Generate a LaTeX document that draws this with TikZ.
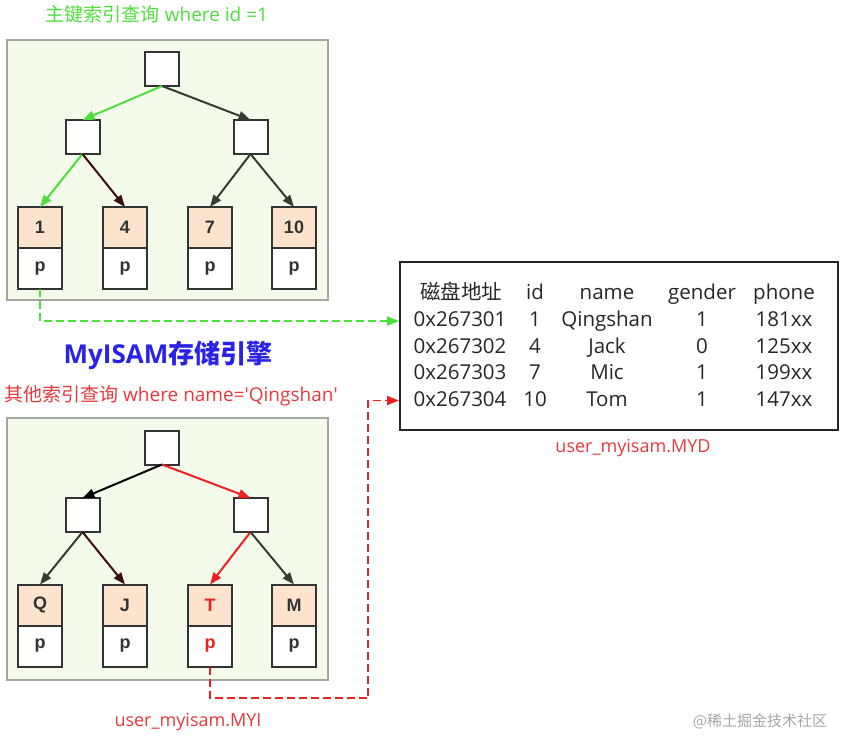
\documentclass[tikz,border=0pt]{standalone}
\usepackage{fontspec}
\setmainfont{Open Sans}
\newfontfamily\cjk{Noto Sans CJK SC}
\newfontfamily\keyfont{Liberation Sans}
\usetikzlibrary{
	arrows.meta,
	positioning,
}
\definecolor{panelbg}{HTML}{F4FBEA}
\definecolor{panelline}{HTML}{A3A8A0}
\definecolor{keyfill}{HTML}{FBE3CE}
\definecolor{hitgreen}{HTML}{4CE03A}
\definecolor{hitred}{HTML}{EE2020}
\definecolor{labelred}{HTML}{E8383D}
\definecolor{engineblue}{HTML}{2B22E8}
\definecolor{edgedark}{HTML}{343C34}
\definecolor{edgebrown}{HTML}{3A0E0E}
\tikzset{panel/.style={
		% the light green background of one index file
		rectangle,draw=panelline,fill=panelbg,line width=2pt,
}}
\tikzset{inner/.style={
		% an inner node of the tree: an empty square
		rectangle,draw=black!80,fill=white,line width=2pt,
		minimum size=34pt,inner sep=0pt,outer sep=0pt,
}}
\tikzset{keycell/.style={
		% the upper half of a leaf: the key
		rectangle,draw=black!80,fill=keyfill,line width=2pt,
		minimum width=44pt,minimum height=41pt,inner sep=0pt,outer sep=0pt,
		font=\keyfont\bfseries\fontsize{18}{18}\selectfont,text=black!80,
}}
\tikzset{ptrcell/.style={
		% the lower half of a leaf: the pointer
		keycell,fill=white,
}}
\tikzset{link/.style={
		-{Triangle[length=12pt,width=9pt]},line width=2pt,draw=edgedark,
}}
\tikzset{lookup/.style={
		-{Triangle[length=12pt,width=9pt]},line width=1.8pt,
		dash pattern=on 8pt off 4pt,
}}
\tikzset{cell/.style={
		font=\fontsize{20.5}{20.5}\selectfont,text=black!85,inner sep=0pt,
		% same baseline in every row
		text height=15pt,text depth=4pt,
}}
\begin{document}
\begin{tikzpicture}[x=1pt,y=-1pt]
	\useasboundingbox (0,0) rectangle (843,738);
	% primary key index
	\node[text=hitgreen,font=\fontsize{19}{19}\selectfont] (pklabel) at (157,14) {{\cjk 主键索引查询} where id =1};
	\draw[panel] (7,40) rectangle (328,300);
	\node[inner] (pkroot) at (162,69) {};
	\node[inner] (pkleft) at (82.5,137) {};
	\node[inner] (pkright) at (250.5,137) {};
	\foreach \x/\k/\n in {40/1/a,125/4/b,210/7/c,294/10/d}{
		\node[keycell] (pkkey\n) at (\x,227.5) {\k};
		\node[ptrcell,below=0pt of pkkey\n] (pkptr\n) {p};
	}
	\draw[link,draw=hitgreen] (pkroot.south) -- (pkleft.north);
	\draw[link] (pkroot.south) -- (pkright.north);
	\draw[link,draw=hitgreen] (pkleft.south) -- (pkkeya.north);
	\draw[link,draw=edgebrown] (pkleft.south) -- (pkkeyb.north);
	\draw[link] (pkright.south) -- (pkkeyc.north);
	\draw[link] (pkright.south) -- (pkkeyd.north);
	% engine title
	\node[text=engineblue,font=\bfseries\fontsize{26}{26}\selectfont] (engine) at (168,355) {MyISAM{\cjk 存储引擎}};
	% secondary index
	\node[text=labelred,font=\fontsize{19}{19}\selectfont] (sklabel) at (171,396) {{\cjk 其他索引查询} where name=\textquotesingle Qingshan\textquotesingle};
	\draw[panel] (7,418) rectangle (328,680);
	\node[inner] (skroot) at (162,447.5) {};
	\node[inner] (skleft) at (82.5,515) {};
	\node[inner] (skright) at (250.5,515) {};
	\foreach \x/\k/\n in {40/Q/a,125/J/b,210/T/c,294/M/d}{
		\node[keycell] (skkey\n) at (\x,605) {\k};
		\node[ptrcell,below=0pt of skkey\n] (skptr\n) {p};
	}
	\node[keycell,text=hitred] at (skkeyc) {T};
	\node[ptrcell,text=hitred] at (skptrc) {p};
	\draw[link,draw=black] (skroot.south) -- (skleft.north);
	\draw[link,draw=hitred] (skroot.south) -- (skright.north);
	\draw[link] (skleft.south) -- (skkeya.north);
	\draw[link,draw=edgebrown] (skleft.south) -- (skkeyb.north);
	\draw[link,draw=hitred] (skright.south) -- (skkeyc.north);
	\draw[link] (skright.south) -- (skkeyd.north);
	\node[text=labelred,font=\fontsize{18}{18}\selectfont] (myi) at (188,722) {user\_myisam.MYI};
	% data file
	\node[rectangle,draw=black!85,line width=1.8pt,minimum width=438pt,minimum height=168pt] (myd) at (619,346) {};
	\node[cell] (h1) at (461,294) {{\cjk 磁盘地址}};
	\node[cell] (h2) at (535,294) {id};
	\node[cell] (h3) at (607,294) {name};
	\node[cell] (h4) at (702,294) {gender};
	\node[cell] (h5) at (784,294) {phone};
	\foreach \r/\y/\addr/\id/\nm/\g/\ph in {1/321/0x267301/1/Qingshan/1/181xx,2/347.5/0x267302/4/Jack/0/125xx,3/374/0x267303/7/Mic/1/199xx,4/400.5/0x267304/10/Tom/1/147xx}{
		\node[cell] (a\r) at (460,\y) {\addr};
		\node[cell] (i\r) at (535,\y) {\id};
		\node[cell] (n\r) at (607,\y) {\nm};
		\node[cell] (g\r) at (702,\y) {\g};
		\node[cell] (t\r) at (784,\y) {\ph};
	}
	\node[text=labelred,font=\fontsize{18}{18}\selectfont] (mydlabel) at (633,448) {user\_myisam.MYD};
	% lookups into the data file
	\draw[lookup,draw=hitgreen] (pkptra.south) |- (myd.west |- a1);
	\coordinate (redturn) at (368,698);
	\draw[lookup,draw=hitred] (skptrc.south) |- (redturn) |- (myd.west |- a4);
	% watermark
	\node[text=black!35,font=\cjk\fontsize{15}{15}\selectfont] (mark) at (760,721) {@稀土掘金技术社区};
\end{tikzpicture}
\end{document}
